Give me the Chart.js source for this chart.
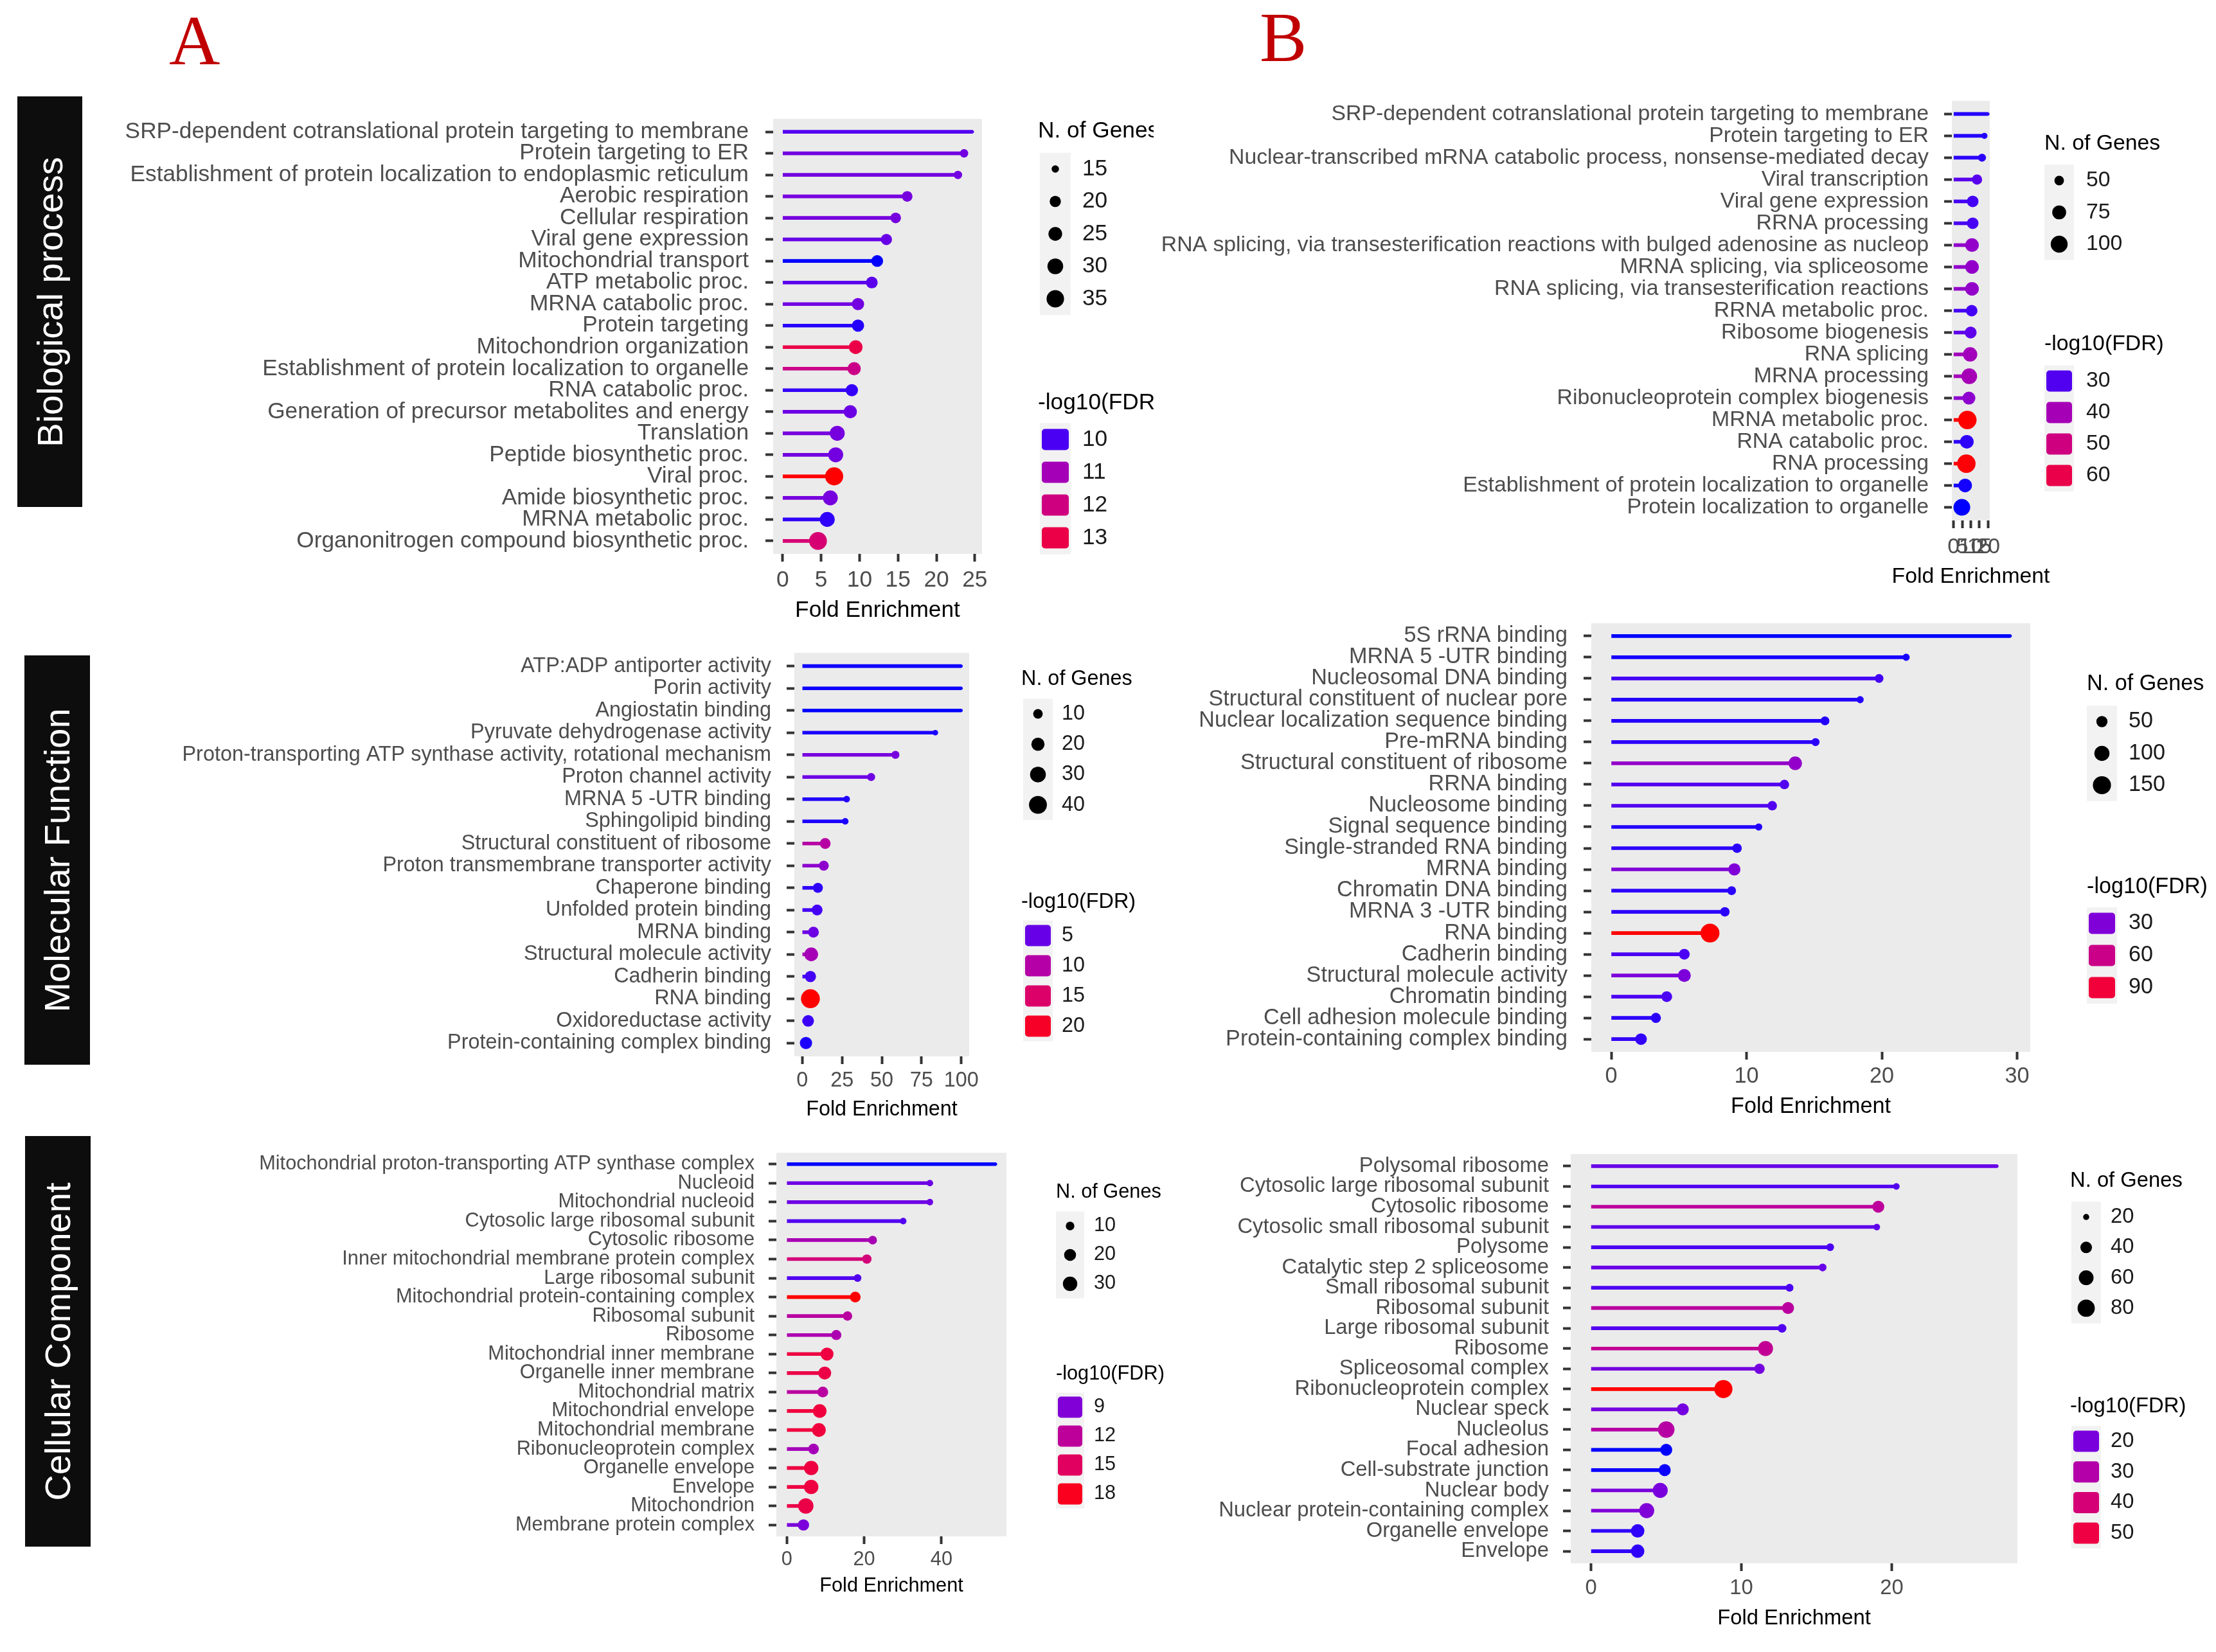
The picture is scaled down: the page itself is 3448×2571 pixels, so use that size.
<!DOCTYPE html>
<html>
<head>
<meta charset="utf-8">
<script src="https://cdn.jsdelivr.net/npm/chart.js@4.4.0/dist/chart.umd.min.js"></script>
<style>
html,body{margin:0;padding:0;background:#fff;}
#root{position:relative;width:3448px;height:2571px;overflow:hidden;background:#fff;}
#root canvas{position:absolute;}
.side{position:absolute;background:#0d0d0d;color:#fff;font-family:"Liberation Sans",Arial,sans-serif;display:flex;align-items:center;justify-content:center;overflow:hidden;}
.side span{transform:rotate(-90deg);white-space:nowrap;font-size:56px;line-height:1;}
.letter{position:absolute;color:#C00000;font-family:"Liberation Serif","Times New Roman",serif;font-size:110px;line-height:1;}
</style>
</head>
<body>
<div id="root">
  <div class="letter" style="left:263px;top:8px;">A</div>
  <div class="letter" style="left:1960px;top:3px;">B</div>
  <div class="side" style="left:27px;top:150px;width:101px;height:639px;"><span>Biological process</span></div>
  <div class="side" style="left:38px;top:1020px;width:102px;height:637px;"><span>Molecular Function</span></div>
  <div class="side" style="left:39px;top:1768px;width:102px;height:639px;"><span>Cellular Component</span></div>
</div>
<script>
// ================= DATA =================
// A - Biological process
const bpA_terms = [
 "SRP-dependent cotranslational protein targeting to membrane",
 "Protein targeting to ER",
 "Establishment of protein localization to endoplasmic reticulum",
 "Aerobic respiration",
 "Cellular respiration",
 "Viral gene expression",
 "Mitochondrial transport",
 "ATP metabolic proc.",
 "MRNA catabolic proc.",
 "Protein targeting",
 "Mitochondrion organization",
 "Establishment of protein localization to organelle",
 "RNA catabolic proc.",
 "Generation of precursor metabolites and energy",
 "Translation",
 "Peptide biosynthetic proc.",
 "Viral proc.",
 "Amide biosynthetic proc.",
 "MRNA metabolic proc.",
 "Organonitrogen compound biosynthetic proc."];
const bpA_fold  = [24.7, 23.6, 22.8, 16.2, 14.7, 13.5, 12.3, 11.6, 9.8, 9.8, 9.5, 9.3, 9.0, 8.8, 7.1, 6.9, 6.7, 6.2, 5.8, 4.6];
const bpA_fdr   = [10.05, 10.3, 10.3, 10.35, 10.35, 10.2, 9.8, 10.1, 10.3, 9.85, 13.0, 11.85, 9.9, 10.25, 10.35, 10.3, 13.9, 10.35, 9.88, 12.25];
const bpA_genes = [13, 16, 16, 19, 19, 20, 21, 21, 22, 22, 25, 24, 22, 24, 28, 28, 37, 28, 28, 36];
const bpA_xticks = [0, 5, 10, 15, 20, 25];
const bpA_geneKeys = [15, 20, 25, 30, 35];
const bpA_fdrKeys = [10, 11, 12, 13];

// B - Biological process
const bpB_terms = [
 "SRP-dependent cotranslational protein targeting to membrane",
 "Protein targeting to ER",
 "Nuclear-transcribed mRNA catabolic process, nonsense-mediated decay",
 "Viral transcription",
 "Viral gene expression",
 "RRNA processing",
 "RNA splicing, via transesterification reactions with bulged adenosine as nucleop",
 "MRNA splicing, via spliceosome",
 "RNA splicing, via transesterification reactions",
 "RRNA metabolic proc.",
 "Ribosome biogenesis",
 "RNA splicing",
 "MRNA processing",
 "Ribonucleoprotein complex biogenesis",
 "MRNA metabolic proc.",
 "RNA catabolic proc.",
 "RNA processing",
 "Establishment of protein localization to organelle",
 "Protein localization to organelle"];
const bpB_fold  = [20.0, 17.9, 16.5, 13.6, 11.1, 11.1, 10.7, 10.7, 10.7, 10.5, 9.9, 9.6, 9.1, 8.9, 8.0, 7.7, 7.4, 6.7, 4.8];
const bpB_fdr   = [28.0, 28.0, 28.2, 30.4, 29.2, 29.4, 36.7, 36.7, 36.7, 29.2, 30.9, 39.3, 40.1, 35.9, 69.5, 28.3, 69.1, 27.7, 27.5];
const bpB_genes = [36, 39, 44, 53, 60, 60, 73, 73, 73, 60, 62, 78, 89, 68, 114, 73, 115, 73, 98];
const bpB_xticks = [0, 5, 10, 15, 20];
const bpB_geneKeys = [50, 75, 100];
const bpB_fdrKeys = [30, 40, 50, 60];

// A - Molecular Function
const mfA_terms = [
 "ATP:ADP antiporter activity",
 "Porin activity",
 "Angiostatin binding",
 "Pyruvate dehydrogenase activity",
 "Proton-transporting ATP synthase activity, rotational mechanism",
 "Proton channel activity",
 "MRNA 5 -UTR binding",
 "Sphingolipid binding",
 "Structural constituent of ribosome",
 "Proton transmembrane transporter activity",
 "Chaperone binding",
 "Unfolded protein binding",
 "MRNA binding",
 "Structural molecule activity",
 "Cadherin binding",
 "RNA binding",
 "Oxidoreductase activity",
 "Protein-containing complex binding"];
const mfA_fold  = [100, 100, 100, 83.7, 58.6, 43.3, 27.9, 27.0, 14.4, 13.5, 9.8, 9.3, 7.0, 5.6, 5.1, 5.1, 3.7, 2.3];
const mfA_fdr   = [3.2, 3.2, 3.15, 3.3, 5.7, 5.2, 3.35, 3.3, 10.2, 6.85, 3.5, 3.9, 5.2, 8.7, 3.9, 21.65, 3.7, 3.3];
const mfA_genes = [3, 3, 3, 4, 7, 7, 5, 5, 13, 11, 11, 13, 13, 22, 14, 45, 15, 17];
const mfA_xticks = [0, 25, 50, 75, 100];
const mfA_geneKeys = [10, 20, 30, 40];
const mfA_fdrKeys = [5, 10, 15, 20];

// B - Molecular Function
const mfB_terms = [
 "5S rRNA binding",
 "MRNA 5 -UTR binding",
 "Nucleosomal DNA binding",
 "Structural constituent of nuclear pore",
 "Nuclear localization sequence binding",
 "Pre-mRNA binding",
 "Structural constituent of ribosome",
 "RRNA binding",
 "Nucleosome binding",
 "Signal sequence binding",
 "Single-stranded RNA binding",
 "MRNA binding",
 "Chromatin DNA binding",
 "MRNA 3 -UTR binding",
 "RNA binding",
 "Cadherin binding",
 "Structural molecule activity",
 "Chromatin binding",
 "Cell adhesion molecule binding",
 "Protein-containing complex binding"];
const mfB_fold  = [29.5, 21.8, 19.8, 18.4, 15.8, 15.1, 13.6, 12.8, 11.9, 10.9, 9.3, 9.1, 8.9, 8.4, 7.3, 5.4, 5.4, 4.1, 3.3, 2.2];
const mfB_fdr   = [16.0, 16.5, 19.5, 17.0, 17.0, 17.5, 35.4, 21.3, 21.3, 17.0, 17.5, 30.0, 17.5, 17.5, 104, 20.4, 29.2, 20.4, 17.5, 18.0];
const mfB_genes = [10, 20, 30, 20, 30, 25, 78, 35, 35, 20, 35, 61, 30, 35, 165, 47, 70, 47, 40, 55];
const mfB_xticks = [0, 10, 20, 30];
const mfB_geneKeys = [50, 100, 150];
const mfB_fdrKeys = [30, 60, 90];

// A - Cellular Component
const ccA_terms = [
 "Mitochondrial proton-transporting ATP synthase complex",
 "Nucleoid",
 "Mitochondrial nucleoid",
 "Cytosolic large ribosomal subunit",
 "Cytosolic ribosome",
 "Inner mitochondrial membrane protein complex",
 "Large ribosomal subunit",
 "Mitochondrial protein-containing complex",
 "Ribosomal subunit",
 "Ribosome",
 "Mitochondrial inner membrane",
 "Organelle inner membrane",
 "Mitochondrial matrix",
 "Mitochondrial envelope",
 "Mitochondrial membrane",
 "Ribonucleoprotein complex",
 "Organelle envelope",
 "Envelope",
 "Mitochondrion",
 "Membrane protein complex"];
const ccA_fold  = [54.1, 37.0, 37.0, 30.1, 22.2, 20.7, 18.3, 17.7, 15.7, 12.8, 10.4, 9.8, 9.3, 8.5, 8.3, 6.9, 6.3, 6.3, 4.9, 4.3];
const ccA_fdr   = [7.1, 8.4, 8.4, 7.8, 10.7, 13.7, 7.8, 18.7, 11.7, 10.9, 16.5, 16.2, 11.7, 16.7, 16.7, 10.5, 16.5, 16.5, 16.2, 8.8];
const ccA_genes = [3, 6, 6, 6, 10, 12, 8, 16, 12, 14, 24, 24, 16, 27, 27, 16, 30, 30, 35, 18];
const ccA_xticks = [0, 20, 40];
const ccA_geneKeys = [10, 20, 30];
const ccA_fdrKeys = [9, 12, 15, 18];

// B - Cellular Component
const ccB_terms = [
 "Polysomal ribosome",
 "Cytosolic large ribosomal subunit",
 "Cytosolic ribosome",
 "Cytosolic small ribosomal subunit",
 "Polysome",
 "Catalytic step 2 spliceosome",
 "Small ribosomal subunit",
 "Ribosomal subunit",
 "Large ribosomal subunit",
 "Ribosome",
 "Spliceosomal complex",
 "Ribonucleoprotein complex",
 "Nuclear speck",
 "Nucleolus",
 "Focal adhesion",
 "Cell-substrate junction",
 "Nuclear body",
 "Nuclear protein-containing complex",
 "Organelle envelope",
 "Envelope"];
const ccB_fold  = [27.0, 20.3, 19.1, 19.0, 15.9, 15.4, 13.2, 13.1, 12.7, 11.6, 11.2, 8.8, 6.1, 5.0, 5.0, 4.9, 4.6, 3.7, 3.1, 3.1];
const ccB_fdr   = [18.2, 16.4, 32.6, 17.3, 16.0, 18.2, 16.0, 31.7, 16.4, 34.0, 19.6, 58.7, 19.6, 30.8, 13.7, 13.8, 20.0, 20.9, 14.6, 14.6];
const ccB_genes = [17, 21, 42, 21, 24, 24, 24, 42, 27, 62, 34, 88, 42, 74, 42, 42, 62, 62, 51, 51];
const ccB_xticks = [0, 10, 20];
const ccB_geneKeys = [20, 40, 60, 80];
const ccB_fdrKeys = [20, 30, 40, 50];

// ================= COLOUR (Lab interpolation blue -> red, like ggplot) =================
function rgb2lab(r, g, b) {
  const lin = c => { c /= 255; return c <= 0.04045 ? c / 12.92 : Math.pow((c + 0.055) / 1.055, 2.4); };
  const R = lin(r), G = lin(g), B = lin(b);
  const X = (R * 0.4124564 + G * 0.3575761 + B * 0.1804375) / 0.95047;
  const Y = (R * 0.2126729 + G * 0.7151522 + B * 0.0721750);
  const Z = (R * 0.0193339 + G * 0.1191920 + B * 0.9503041) / 1.08883;
  const f = t => t > 0.008856 ? Math.cbrt(t) : (7.787 * t + 16 / 116);
  const fx = f(X), fy = f(Y), fz = f(Z);
  return [116 * fy - 16, 500 * (fx - fy), 200 * (fy - fz)];
}
function lab2rgb(L, a, b) {
  const fy = (L + 16) / 116, fx = fy + a / 500, fz = fy - b / 200;
  const finv = t => { const t3 = t * t * t; return t3 > 0.008856 ? t3 : (t - 16 / 116) / 7.787; };
  const X = finv(fx) * 0.95047, Y = finv(fy), Z = finv(fz) * 1.08883;
  const R =  3.2404542 * X - 1.5371385 * Y - 0.4985314 * Z;
  const G = -0.9692660 * X + 1.8760108 * Y + 0.0415560 * Z;
  const B =  0.0556434 * X - 0.2040259 * Y + 1.0572252 * Z;
  return [R, G, B].map(c => {
    c = Math.max(0, Math.min(1, c));
    c = c <= 0.0031308 ? 12.92 * c : 1.055 * Math.pow(c, 1 / 2.4) - 0.055;
    return Math.round(Math.max(0, Math.min(1, c)) * 255);
  });
}
const LAB_LO = rgb2lab(0, 0, 255), LAB_HI = rgb2lab(255, 0, 0);
function rampColor(t) {
  t = Math.max(0, Math.min(1, t));
  const c = lab2rgb(LAB_LO[0] + (LAB_HI[0] - LAB_LO[0]) * t,
                    LAB_LO[1] + (LAB_HI[1] - LAB_LO[1]) * t,
                    LAB_LO[2] + (LAB_HI[2] - LAB_LO[2]) * t);
  return `rgb(${c[0]},${c[1]},${c[2]})`;
}

// ================= LAYOUT =================
const FONT = '"Liberation Sans", Arial, Helvetica, sans-serif';
const root = document.getElementById('root');
const measureCtx = document.createElement('canvas').getContext('2d');

const panels = [
  { terms: bpA_terms, fold: bpA_fold, fdr: bpA_fdr, genes: bpA_genes, xticks: bpA_xticks, geneKeys: bpA_geneKeys, fdrKeys: bpA_fdrKeys,
    cx0: 150, cy0: 150, cx1: 1795, cy1: 990, L: 1203, R: 1528, T: 185, B: 862, labR: 1165, xLabY: 903, titleY: 950,
    labelW: 971, refIdx: 0, kk: 4.7,
    lg: { t1x: 1615, t1y: 204, kx: 1618, kw: 48, s0: 263, ss: 50.5, lx: 1684, t2y: 627, c0: 684, cs: 51 } },
  { terms: bpB_terms, fold: bpB_fold, fdr: bpB_fdr, genes: bpB_genes, xticks: bpB_xticks, geneKeys: bpB_geneKeys, fdrKeys: bpB_fdrKeys,
    cx0: 1800, cy0: 120, cx1: 3448, cy1: 940, L: 3037, R: 3096, T: 157, B: 810, labR: 3001, xLabY: 852, titleY: 898,
    labelW: 930, refIdx: 0, kk: 4.8,
    lg: { t1x: 3181, t1y: 224, kx: 3181, kw: 46, s0: 281, ss: 49.5, lx: 3246, t2y: 536, c0: 593, cs: 49 } },
  { terms: mfA_terms, fold: mfA_fold, fdr: mfA_fdr, genes: mfA_genes, xticks: mfA_xticks, geneKeys: mfA_geneKeys, fdrKeys: mfA_fdrKeys,
    cx0: 150, cy0: 980, cx1: 1820, cy1: 1770, L: 1236, R: 1508, T: 1016, B: 1644, labR: 1200, xLabY: 1682, titleY: 1727,
    labelW: 917, refIdx: 4, kk: 4.9,
    lg: { t1x: 1589, t1y: 1057, kx: 1592, kw: 46, s0: 1111, ss: 47.2, lx: 1652, t2y: 1404, c0: 1456, cs: 47 } },
  { terms: mfB_terms, fold: mfB_fold, fdr: mfB_fdr, genes: mfB_genes, xticks: mfB_xticks, geneKeys: mfB_geneKeys, fdrKeys: mfB_fdrKeys,
    cx0: 1800, cy0: 940, cx1: 3448, cy1: 1770, L: 2476, R: 3159, T: 970, B: 1637, labR: 2439, xLabY: 1676, titleY: 1723,
    labelW: 574, refIdx: 4, kk: 4.9,
    lg: { t1x: 3247, t1y: 1065, kx: 3247, kw: 47, s0: 1123, ss: 49.5, lx: 3312, t2y: 1381, c0: 1437, cs: 50 } },
  { terms: ccA_terms, fold: ccA_fold, fdr: ccA_fdr, genes: ccA_genes, xticks: ccA_xticks, geneKeys: ccA_geneKeys, fdrKeys: ccA_fdrKeys,
    cx0: 150, cy0: 1760, cx1: 1830, cy1: 2540, L: 1208, R: 1566, T: 1794, B: 2391, labR: 1174, xLabY: 2428, titleY: 2469,
    labelW: 771, refIdx: 0, kk: 4.0,
    lg: { t1x: 1643, t1y: 1856, kx: 1643, kw: 44, s0: 1908, ss: 45, lx: 1702, t2y: 2139, c0: 2190, cs: 45 } },
  { terms: ccB_terms, fold: ccB_fold, fdr: ccB_fdr, genes: ccB_genes, xticks: ccB_xticks, geneKeys: ccB_geneKeys, fdrKeys: ccB_fdrKeys,
    cx0: 1800, cy0: 1770, cx1: 3448, cy1: 2571, L: 2444, R: 3139, T: 1796, B: 2433, labR: 2410, xLabY: 2472, titleY: 2519,
    labelW: 514, refIdx: 17, kk: 4.7,
    lg: { t1x: 3221, t1y: 1838, kx: 3223, kw: 46, s0: 1894, ss: 47.3, lx: 3284, t2y: 2189, c0: 2243, cs: 47.7 } }
];

function makePanel(p) {
  measureCtx.font = '100px ' + FONT;
  const F = 100 * p.labelW / measureCtx.measureText(p.terms[p.refIdx]).width;
  const tickLen = 12;
  const yPad = p.L - tickLen - p.labR;
  // Chart.js reserves (tick padding + half label height) above the plot: make the canvas tall enough
  const cy0 = Math.min(p.cy0, Math.floor(p.T - (yPad + F * 0.6 + 8)));

  const W = p.cx1 - p.cx0, H = p.cy1 - cy0;
  const cv = document.createElement('canvas');
  cv.width = W; cv.height = H;
  cv.style.left = p.cx0 + 'px'; cv.style.top = cy0 + 'px';
  cv.style.width = W + 'px'; cv.style.height = H + 'px';
  root.appendChild(cv);

  const n = p.terms.length;
  const feMax = Math.max(...p.fold);
  const fLo = Math.min(...p.fdr), fHi = Math.max(...p.fdr);
  const gLo = Math.min(...p.genes), gHi = Math.max(...p.genes);
  const colOf = v => rampColor((v - fLo) / (fHi - fLo));
  const diaOf = g => p.kk * (1 + 5 * Math.sqrt(Math.max(0, Math.min(1, (g - gLo) / (gHi - gLo)))));
  const colors = p.fdr.map(colOf);
  const radii = p.genes.map(g => diaOf(g) / 2);
  const pts = p.fold.map((v, i) => ({ x: v, y: i }));

  const xPad = Math.max(0, p.xLabY - p.B - tickLen - F * 0.6);
  const tickFont = { family: FONT, size: F };

  const bgPlugin = {
    id: 'panelBg',
    beforeDraw(chart) {
      const a = chart.chartArea, c = chart.ctx;
      c.save(); c.fillStyle = '#EBEBEB';
      c.fillRect(a.left, a.top, a.right - a.left, a.bottom - a.top);
      c.restore();
    }
  };
  const legendPlugin = {
    id: 'ggLegend',
    afterDraw(chart) {
      const c = chart.ctx, lg = p.lg, ox = p.cx0, oy = cy0, a = chart.chartArea;
      c.save();
      c.font = `${F}px ${FONT}`;
      // x axis title
      c.textBaseline = 'middle'; c.textAlign = 'center';
      c.fillStyle = '#000';
      c.fillText('Fold Enrichment', (a.left + a.right) / 2, p.titleY - oy);
      c.textAlign = 'left';
      // size legend
      c.fillStyle = '#000';
      c.fillText('N. of Genes', lg.t1x - ox, lg.t1y - oy);
      c.fillStyle = '#F2F2F2';
      c.fillRect(lg.kx - ox, lg.s0 - lg.ss / 2 - oy, lg.kw, lg.ss * p.geneKeys.length);
      p.geneKeys.forEach((v, i) => {
        const cy = lg.s0 + i * lg.ss - oy, cx = lg.kx + lg.kw / 2 - ox;
        c.fillStyle = '#000';
        c.beginPath(); c.arc(cx, cy, diaOf(v) / 2, 0, Math.PI * 2); c.fill();
        c.fillStyle = '#1A1A1A';
        c.fillText(String(v), lg.lx - ox, cy);
      });
      // colour legend
      c.fillStyle = '#000';
      c.fillText('-log10(FDR)', lg.t1x - ox, lg.t2y - oy);
      c.fillStyle = '#F2F2F2';
      c.fillRect(lg.kx - ox, lg.c0 - lg.cs / 2 - oy, lg.kw, lg.cs * p.fdrKeys.length);
      p.fdrKeys.forEach((v, i) => {
        const cy = lg.c0 + i * lg.cs - oy, cx = lg.kx + lg.kw / 2 - ox;
        c.fillStyle = colOf(v);
        const w = lg.kw - 6, h = 33;
        c.beginPath();
        if (c.roundRect) c.roundRect(cx - w / 2, cy - h / 2, w, h, 5); else c.rect(cx - w / 2, cy - h / 2, w, h);
        c.fill();
        c.fillStyle = '#1A1A1A';
        c.fillText(String(v), lg.lx - ox, cy);
      });
      c.restore();
    }
  };

  new Chart(cv, {
    type: 'bar',
    data: {
      datasets: [
        { type: 'scatter', data: pts, order: 0,
          pointRadius: radii, pointHoverRadius: radii, pointBackgroundColor: colors,
          pointBorderWidth: 0, pointHoverBorderWidth: 0, pointBorderColor: colors },
        { type: 'bar', data: pts, order: 1, backgroundColor: colors, borderWidth: 0, barThickness: 5 }
      ]
    },
    options: {
      indexAxis: 'y',
      responsive: false, maintainAspectRatio: false, animation: false, devicePixelRatio: 1,
      events: [],
      layout: { padding: { left: 0, top: p.T - cy0, right: p.cx1 - p.R, bottom: 0 } },
      plugins: { legend: { display: false }, tooltip: { enabled: false }, title: { display: false } },
      scales: {
        x: {
          type: 'linear', min: -0.05 * feMax, max: 1.05 * feMax, offset: false,
          afterBuildTicks: ax => { ax.ticks = p.xticks.map(v => ({ value: v })); },
          afterFit: ax => { ax.height = p.cy1 - p.B; },
          grid: { display: true, offset: false, drawOnChartArea: false, drawTicks: true, tickLength: tickLen, tickWidth: 4, tickColor: '#333333', color: 'rgba(0,0,0,0)' },
          border: { display: false },
          ticks: { autoSkip: false, maxRotation: 0, minRotation: 0, padding: xPad, color: '#4D4D4D', font: tickFont,
                   callback: v => String(v) },
          title: { display: false }
        },
        y: {
          type: 'linear', reverse: true, min: -0.6, max: n - 0.4, offset: false,
          afterBuildTicks: ax => { ax.ticks = p.terms.map((_, i) => ({ value: i })); },
          afterFit: ax => { ax.width = p.L - p.cx0; },
          grid: { display: true, offset: false, drawOnChartArea: false, drawTicks: true, tickLength: tickLen, tickWidth: 4, tickColor: '#333333', color: 'rgba(0,0,0,0)' },
          border: { display: false },
          ticks: { autoSkip: false, padding: yPad, color: '#4D4D4D', font: tickFont,
                   callback: v => (p.terms[v] !== undefined ? p.terms[v] : '') }
        }
      }
    },
    plugins: [bgPlugin, legendPlugin]
  });
}

panels.forEach(makePanel);
</script>
</body>
</html>
